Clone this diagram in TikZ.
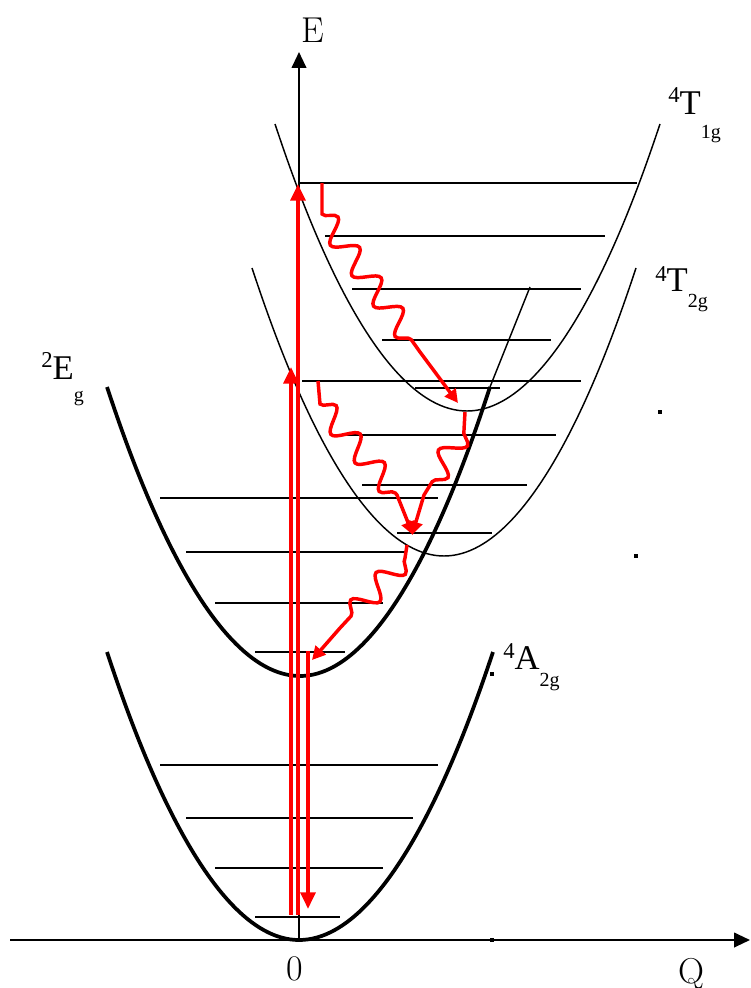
\documentclass[tikz,border=0pt]{standalone}
\usepackage{fontspec}
\newfontfamily\libserif{Liberation Serif}
\usetikzlibrary{decorations.pathmorphing, arrows.meta}
\newcommand\stlab[5]{\libserif\raisebox{#4}{\fontsize{17pt}{17pt}\selectfont #1}\fontsize{26pt}{26pt}\selectfont #2\raisebox{-#5}{\fontsize{15pt}{15pt}\selectfont #3}}
\begin{document}
\begin{tikzpicture}[x=0.75pt,y=-0.75pt,
  lvl/.style={line width=1.1pt},
  pot/.style={line width=1.1pt},
  potthick/.style={line width=2.8pt},
  axisline/.style={line width=1.5pt, -{Triangle[length=12pt,width=11pt]}},
  redarr/.style={draw=red, line width=3pt, -{Triangle[length=12.5pt,width=11pt]}},
  wavy/.style={draw=red, line width=2.6pt, -{Triangle[length=10pt,width=10pt]},
    decoration={snake, segment length=28pt, amplitude=8.5pt}},
  axlab/.style={font=\fontsize{27pt}{27pt}\selectfont, anchor=base, inner sep=0pt},
  stl/.style={anchor=base west, inner sep=0pt}
]
\useasboundingbox (0,0) rectangle (750,988);
% axes
\coordinate (xo) at (10,940);
\coordinate (xe) at (750,940);
\coordinate (yo) at (299,940);
\coordinate (ye) at (299,52);
\draw[axisline] (xo) -- (xe);
\draw[axisline] (yo) -- (ye);
\node[axlab] (E) at (313,43) {E};
\node[axlab] (zero) at (295,980) {0};
\node[axlab] (Q) at (691,983) {Q};
% potential curves
\draw[potthick] (107,652) parabola bend (299,940) (493,652);
\draw[potthick] (107,387) parabola bend (300,676) (490,387);
\draw[pot] (490,387) -- (530,287);
\draw[pot] (252,268) parabola bend (444,556) (636,268);
\draw[pot] (275,124) parabola bend (467,411) (660,124);
% levels 4A2g
\draw[lvl] (255,917) -- (340,917);
\draw[lvl] (215,868) -- (383,868);
\draw[lvl] (186,818) -- (413,818);
\draw[lvl] (160,765) -- (438,765);
% levels 2Eg
\draw[lvl] (255,652) -- (345,652);
\draw[lvl] (215,603) -- (383,603);
\draw[lvl] (186,552) -- (405,552);
\draw[lvl] (160,498) -- (438,498);
% levels 4T2g
\draw[lvl] (302,381) -- (581,381);
\draw[lvl] (330,435) -- (556,435);
\draw[lvl] (362,485) -- (527,485);
\draw[lvl] (397,533) -- (492,533);
% levels 4T1g
\draw[lvl] (298,183) -- (637,183);
\draw[lvl] (325,236) -- (605,236);
\draw[lvl] (352,289) -- (581,289);
\draw[lvl] (382,340) -- (551,340);
\draw[lvl] (415,388) -- (500,388);
% labels
\node[stl] (T1g) at (668,115) {\stlab{4}{T}{1g}{9pt}{18pt}};
\node[stl] (T2g) at (655,291) {\stlab{4}{T}{2g}{7pt}{12pt}};
\node[stl] (Eg) at (41,379) {\stlab{2}{E}{g}{9pt}{17pt}};
\node[stl] (A2g) at (503,669) {\stlab{4}{A}{2g}{8pt}{13pt}};
% dots
\fill (490,672) rectangle (494,676);
\fill (658,410) rectangle (662,414);
\fill (634,554) rectangle (638,558);
\fill (490,938) rectangle (494,942);
% red straight arrows
\coordinate (r1a) at (298,915); \coordinate (r1b) at (298,184);
\coordinate (r2a) at (291,915); \coordinate (r2b) at (291,367);
\coordinate (r3a) at (308,651); \coordinate (r3b) at (308,909);
\draw[redarr] (r1a) -- (r1b);
\draw[redarr] (r2a) -- (r2b);
\draw[redarr] (r3a) -- (r3b);
% wavy arrows
\draw[wavy] (322,183) -- (322,214) decorate{-- (420,352)} -- (458,403);
\draw[wavy] (465,412) -- (464,430) decorate{-- (424,495)} -- (412,535);
\draw[wavy] (318,381) -- (320,404) decorate{-- (397,495)} -- (413,535);
\draw[wavy] (407,545) -- (405,558) decorate{-- (340,628)} -- (312,660);
\end{tikzpicture}
\end{document}
